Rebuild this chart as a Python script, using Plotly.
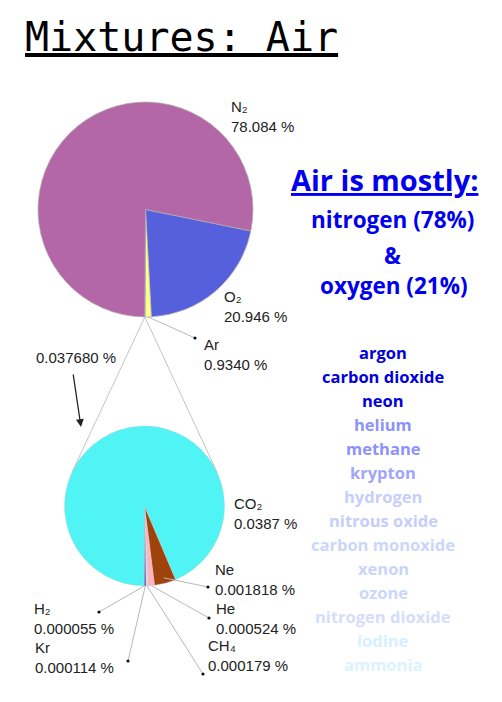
import math
import plotly.graph_objects as go

W, H = 502, 702

# ---------------- data ----------------
main_labels = ["O₂", "Ar", "other", "N₂"]
main_values = [20.946, 0.9340, 0.037680, 78.084]
main_value_text = ["20.946 %", "0.9340 %", "0.037680 %", "78.084 %"]
main_colors = ["#5660dc", "#ffff8a", "#50f4f4", "#b467a6"]

trace_labels = ["Ne", "He", "CH₄", "Kr", "H₂", "CO₂"]
trace_values = [0.001818, 0.000524, 0.000179, 0.000114, 0.000055, 0.0387]
trace_value_text = ["0.001818 %", "0.000524 %", "0.000179 %", "0.000114 %", "0.000055 %", "0.0387 %"]
trace_colors = ["#a0420c", "#ffb4c2", "#f6d6e6", "#3a3ad0", "#16167a", "#50f4f4"]

headline = "Air is mostly:"
mostly_lines = ["nitrogen (78%)", "&", "oxygen (21%)"]

gas_names = ["argon", "carbon dioxide", "neon", "helium", "methane", "krypton",
             "hydrogen", "nitrous oxide", "carbon monoxide", "xenon", "ozone",
             "nitrogen dioxide", "iodine", "ammonia"]
gas_colors = ["#0000dc", "#0000dc", "#0000dc", "#8c92fa", "#8c92fa", "#a0a6fa",
              "#c8cefa", "#c6cefa", "#ccd6fb", "#cad4fb", "#ccd6fb",
              "#d6ddfc", "#d6f0ff", "#dcf2ff"]

# ---------------- layout helpers ----------------
def px(x):
    return x / W


def py(y):
    return 1 - y / H


TOP_C, TOP_R, TOP_ROT = (145.5, 209.5), 107.5, 101.5
BOT_C, BOT_R, BOT_ROT = (144.5, 506.0), 80.0, 157


def domain(c, r):
    return dict(x=[px(c[0] - r), px(c[0] + r)], y=[py(c[1] + r), py(c[1] - r)])


def edge_point(values, idx, rot, c, r, frac=1.0):
    tot = float(sum(values))
    start = rot + 360.0 * sum(values[:idx]) / tot
    mid = math.radians(start + 180.0 * values[idx] / tot)
    return (c[0] + frac * r * math.sin(mid), c[1] - frac * r * math.cos(mid))


fig = go.Figure()
fig.add_trace(go.Pie(
    labels=main_labels, values=main_values, sort=False, direction="clockwise",
    rotation=TOP_ROT, textinfo="none", domain=domain(TOP_C, TOP_R),
    marker=dict(colors=main_colors, line=dict(color="#b0b0b0", width=0.7)),
    showlegend=False,
))
fig.add_trace(go.Pie(
    labels=trace_labels, values=trace_values, sort=False, direction="clockwise",
    rotation=BOT_ROT, textinfo="none", domain=domain(BOT_C, BOT_R),
    marker=dict(colors=trace_colors, line=dict(color="#c8c8c8", width=0.4)),
    showlegend=False,
))

shapes = []
annotations = []
LABEL_FONT = dict(family="Liberation Sans, Arial, sans-serif", size=15, color="#222222")


def line(p0, p1, color="#b8b8b8", width=1):
    shapes.append(dict(type="line", xref="paper", yref="paper",
                       x0=px(p0[0]), y0=py(p0[1]), x1=px(p1[0]), y1=py(p1[1]),
                       line=dict(color=color, width=width)))


def dot(p, r=1.6):
    shapes.append(dict(type="circle", xref="paper", yref="paper",
                       x0=px(p[0] - r), y0=py(p[1] + r), x1=px(p[0] + r), y1=py(p[1] - r),
                       fillcolor="#111111", line=dict(width=0)))


def label(text, x, y, font=LABEL_FONT, xanchor="left"):
    annotations.append(dict(text=text, x=px(x), y=py(y), xref="paper", yref="paper",
                            xanchor=xanchor, yanchor="middle", showarrow=False,
                            align="left", font=font))


# top pie labels
top_pos = {0: (222, 307), 1: (202, 354), 3: (229, 117)}
top_dots = {1: (195, 338)}
for i, (x, y) in top_pos.items():
    label(main_labels[i] + "<br>" + main_value_text[i], x, y)
for i, d in top_dots.items():
    line(edge_point(main_values, i, TOP_ROT, TOP_C, TOP_R), d)
    dot(d)

# connector from the small slice to the second pie (tangents)
P = edge_point(main_values, 2, TOP_ROT, TOP_C, TOP_R)
dx, dy = BOT_C[0] - P[0], BOT_C[1] - P[1]
d = math.hypot(dx, dy)
base = math.atan2(dy, dx)
half = math.asin(BOT_R / d)
tl = math.sqrt(d * d - BOT_R * BOT_R)
for s in (-1, 1):
    a = base + s * half
    line(P, (P[0] + tl * math.cos(a), P[1] + tl * math.sin(a)), color="#c4c4c4", width=1)

label(main_value_text[2], 34, 357)
annotations.append(dict(text="", x=px(81), y=py(427), xref="paper", yref="paper",
                        ax=-8, ay=-54, axref="pixel", ayref="pixel",
                        showarrow=True, arrowhead=2, arrowsize=1.2, arrowwidth=1.3,
                        arrowcolor="#222222"))

# bottom pie labels
bot_pos = {0: (213, 579), 1: (214, 618), 2: (206, 655), 3: (33, 657), 4: (32, 618), 5: (232, 513)}
bot_dots = {0: (208, 587), 1: (209, 618), 2: (203, 674), 3: (128, 661), 4: (99, 612)}
for i, (x, y) in bot_pos.items():
    label(trace_labels[i] + "<br>" + trace_value_text[i], x, y)
for i, dd in bot_dots.items():
    fr = 0.93 if i == 0 else 1.0
    line(edge_point(trace_values, i, BOT_ROT, BOT_C, BOT_R, fr), dd)
    dot(dd)

# title
annotations.append(dict(text="<u>Mixtures: Air</u>", x=px(23), y=py(37), xref="paper", yref="paper",
                        xanchor="left", yanchor="middle", showarrow=False,
                        font=dict(family="DejaVu Sans Mono, monospace", size=40, color="#000000")))

# right-hand text
BLUE = "#0000ee"
RFONT = "Open Sans, sans-serif"
annotations.append(dict(text="<b><u>" + headline + "</u></b>", x=px(384), y=py(180),
                        xref="paper", yref="paper", xanchor="center", yanchor="middle",
                        showarrow=False, font=dict(family=RFONT, size=29, color=BLUE)))
for txt, (x, y) in zip(mostly_lines, [(392, 220), (392, 255), (394, 285)]):
    annotations.append(dict(text="<b>" + txt + "</b>", x=px(x), y=py(y), xref="paper", yref="paper",
                            xanchor="center", yanchor="middle", showarrow=False,
                            font=dict(family=RFONT, size=22.5, color=BLUE)))
for k, (g, c) in enumerate(zip(gas_names, gas_colors)):
    annotations.append(dict(text="<b>" + g + "</b>", x=px(383), y=py(352 + 24 * k),
                            xref="paper", yref="paper", xanchor="center", yanchor="middle",
                            showarrow=False, font=dict(family=RFONT, size=16.5, color=c)))

fig.update_layout(width=W, height=H, margin=dict(l=0, r=0, t=0, b=0),
                  paper_bgcolor="white", plot_bgcolor="white",
                  shapes=shapes, annotations=annotations, showlegend=False)

fig.write_html("out.html", config={"displayModeBar": False},
               post_script="document.body.style.margin='0px';")
